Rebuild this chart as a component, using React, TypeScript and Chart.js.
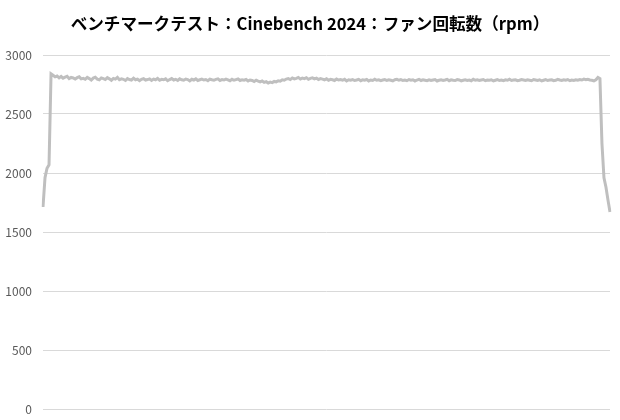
import { useEffect, useRef } from "react";
import Chart from "chart.js/auto";

const title = "ベンチマークテスト：Cinebench 2024：ファン回転数（rpm）";

const yTicks = [0, 500, 1000, 1500, 2000, 2500, 3000];

// fan speed samples (rpm)
const fanRpm = [
  1712, 1960, 2040, 2070, 2840, 2828, 2815, 2822, 2806, 2818,
  2804, 2812, 2820, 2800, 2810, 2806, 2796, 2808, 2815, 2798,
  2802, 2794, 2810, 2800, 2788, 2804, 2812, 2796, 2790, 2806,
  2800, 2792, 2808, 2798, 2786, 2802, 2796, 2810, 2790, 2798,
  2794, 2784, 2800, 2792, 2788, 2804, 2790, 2796, 2782, 2794,
  2800, 2788, 2792, 2798, 2784, 2796, 2790, 2802, 2786, 2794,
  2790, 2798, 2782, 2792, 2800, 2788, 2794, 2784, 2798, 2790,
  2786, 2796, 2792, 2780, 2794, 2788, 2798, 2784, 2790, 2796,
  2788, 2792, 2782, 2796, 2790, 2786, 2794, 2798, 2784, 2792,
  2788, 2796, 2790, 2782, 2794, 2786, 2792, 2798, 2784, 2790,
  2786, 2792, 2780, 2788, 2784, 2776, 2786, 2778, 2772, 2780,
  2768, 2774, 2762, 2770, 2766, 2776, 2772, 2782, 2778, 2790,
  2786, 2796, 2800, 2792, 2806, 2798, 2802, 2810, 2796, 2804,
  2800, 2808, 2794, 2802, 2806, 2798, 2804, 2792, 2800, 2796,
  2790, 2798, 2786, 2794, 2790, 2784, 2796, 2788, 2792, 2786,
  2794, 2780, 2790, 2786, 2792, 2784, 2788, 2794, 2782, 2790,
  2786, 2792, 2780, 2788, 2784, 2794, 2786, 2790, 2782, 2788,
  2792, 2784, 2790, 2786, 2780, 2790, 2794, 2786, 2792, 2784,
  2788, 2782, 2792, 2786, 2790, 2780, 2788, 2794, 2784, 2790,
  2786, 2782, 2790, 2784, 2788, 2792, 2780, 2786, 2790, 2784,
  2788, 2794, 2782, 2790, 2786, 2784, 2792, 2788, 2780, 2786,
  2790, 2784, 2788, 2782, 2794, 2786, 2790, 2784, 2788, 2792,
  2782, 2788, 2786, 2790, 2780, 2786, 2792, 2784, 2788, 2782,
  2790, 2786, 2794, 2784, 2788, 2790, 2782, 2786, 2792, 2788,
  2784, 2790, 2786, 2782, 2792, 2788, 2784, 2790, 2780, 2786,
  2792, 2784, 2788, 2790, 2782, 2786, 2794, 2788, 2784, 2790,
  2786, 2792, 2782, 2788, 2784, 2790, 2786, 2792, 2788, 2796,
  2790, 2794, 2788, 2786, 2780, 2790, 2810, 2800, 2250, 1960,
  1880, 1770, 1670,
];

const samples = fanRpm.map((_, i) => String(i));

const FONT = "'Noto Sans CJK JP', 'Noto Sans', sans-serif";

export default function App() {
  const chartRef = useRef<HTMLCanvasElement | null>(null);

  useEffect(() => {
    if (!chartRef.current) return;

    const chart = new Chart(chartRef.current, {
      type: "line",
      data: {
        labels: samples,
        datasets: [
          {
            label: "ファン回転数",
            data: fanRpm,
            borderColor: "#bfbfbf",
            borderWidth: 3,
            pointRadius: 0,
            tension: 0,
            fill: false,
          },
        ],
      },
      options: {
        animation: false,
        responsive: true,
        maintainAspectRatio: false,
        layout: { padding: { left: 0, right: 10, top: 55, bottom: 11 } },
        plugins: {
          legend: { display: false },
          tooltip: { enabled: false },
          title: { display: false },
        },
        scales: {
          x: { display: false, offset: false },
          y: {
            min: yTicks[0],
            max: yTicks[yTicks.length - 1],
            afterBuildTicks: (axis) => {
              axis.ticks = yTicks.map((v) => ({ value: v }));
            },
            afterFit: (axis) => {
              axis.width = 43;
              axis.paddingTop = 0;
              axis.paddingBottom = 0;
            },
            ticks: {
              color: "#595959",
              font: { family: FONT, size: 12 },
              padding: 11,
              callback: (v) => String(v),
            },
            grid: { color: "#d9d9d9", drawTicks: false },
            border: { display: false },
          },
        },
      },
    });

    return () => chart.destroy();
  }, []);

  return (
    <div
      style={{
        position: "fixed",
        left: 0,
        top: 0,
        width: 620,
        height: 420,
        background: "#ffffff",
      }}
    >
      {/* Title */}
      <div
        style={{
          position: "absolute",
          left: 0,
          top: 13,
          width: 620,
          textAlign: "center",
          fontFamily: FONT,
          fontWeight: "bold",
          fontSize: 16.6,
          lineHeight: "20px",
          color: "#000000",
          whiteSpace: "nowrap",
        }}
      >
        {title}
      </div>
      <canvas ref={chartRef} />
    </div>
  );
}
